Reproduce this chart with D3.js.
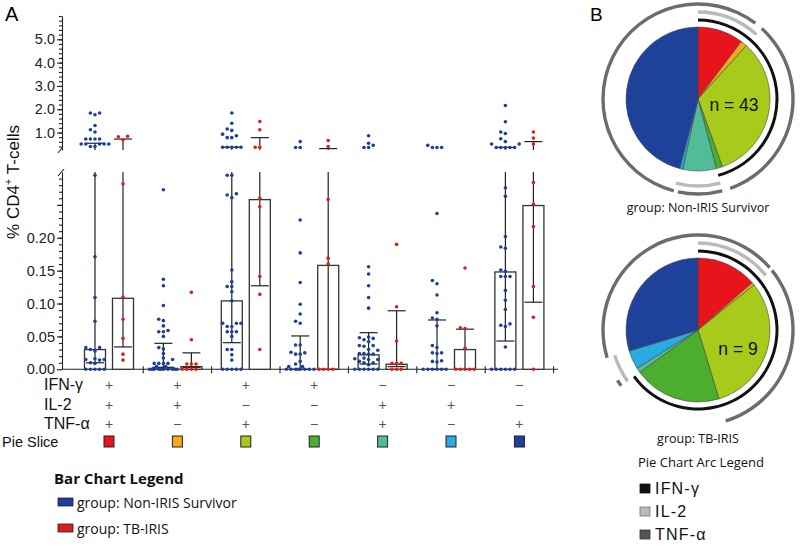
<!DOCTYPE html>
<html>
<head>
<meta charset="utf-8">
<script src="https://cdn.jsdelivr.net/npm/d3@7"></script>
<style>
  body { margin: 0; background: #fff; }
  svg { display: block; }
  .ax text { font-family: "Liberation Sans", Arial, sans-serif; font-size: 14.5px; fill: #222; }
  .ax path, .ax line { stroke: #222; stroke-width: 1.1; }
</style>
</head>
<body>
<script>
// DATA
const combos = ['+++', '++−', '+−+', '+−−', '−++', '−+−', '−−+']
const ifng = ['+', '+', '+', '+', '−', '−', '−']
const il2 = ['+', '+', '−', '−', '+', '+', '−']
const tnfa = ['+', '−', '+', '−', '+', '−', '+']

const upperTicks = [1, 2, 3, 4, 5]
const lowerTicks = [0, 0.05, 0.10, 0.15, 0.20, 0.25]

// bar heights, lower / upper whisker ends (% CD4+ T-cells)
const nonIrisBar = [0.030, 0.003, 0.104, 0.000, 0.022, 0.000, 0.148]
const nonIrisLo  = [0.010, 0.002, 0.0405, 0.000, 0.008, 0.000, 0.043]
const nonIrisHi  = [0.54, 0.0395, 0.37, 0.0507, 0.0557, 0.075, 0.36]
const tbIrisBar  = [0.108, 0.004, 0.258, 0.158, 0.0076, 0.030, 0.249]
const tbIrisLo   = [0.034, 0.003, 0.127, 0.000, 0.004, 0.000, 0.102]
const tbIrisHi   = [0.72, 0.025, 0.78, 0.31, 0.089, 0.061, 0.61]

const nonIrisDots = [
  [1.84, 1.76, 1.84, 1.30, 1.12, 1.02, 0.72, 0.72, 0.72, 0.72, 0.51, 0.51, 0.51, 0.51, 0.51, 0.40, 0.40,
   0.295, 0.171, 0.109, 0.073, 0.033, 0.033, 0.030, 0.028, 0.016, 0.015, 0.015, 0.014, 0.010, 0.009, 0, 0, 0, 0, 0],
  [0.273, 0.137, 0.127, 0.097, 0.076, 0.074, 0.066, 0.059, 0.057, 0.057, 0.050, 0.033, 0.031, 0.024, 0.017, 0.015,
   0.009, 0.009, 0.009, 0.009, 0.004, 0.004, 0, 0, 0, 0, 0, 0, 0, 0, 0, 0],
  [1.84, 1.40, 1.15, 1.09, 0.93, 0.86, 0.78, 0.78, 0.37, 0.37, 0.37, 0.37, 0.37,
   0.295, 0.295, 0.267, 0.265, 0.261, 0.151, 0.133, 0.126, 0.126, 0.118, 0.104, 0.070, 0.070, 0.070, 0.065, 0.065,
   0.057, 0.057, 0.057, 0.050, 0.030, 0.030, 0.022, 0.014, 0, 0, 0, 0, 0],
  [0.61, 0.36, 0.36,
   0.227, 0.177, 0.132, 0.099, 0.084, 0.073, 0.070, 0.037, 0.037, 0.025, 0.023, 0.023, 0.026, 0.012, 0.008,
   0.004, 0.004, 0, 0, 0, 0, 0, 0, 0, 0],
  [0.86, 0.54, 0.36, 0.36, 0.45,
   0.156, 0.145, 0.127, 0.109, 0.093, 0.049, 0.047, 0.045, 0.048, 0.036, 0.035, 0.036, 0.042, 0.030, 0.029,
   0.023, 0.024, 0.023, 0.024, 0.016, 0.015, 0.015, 0.017, 0.010, 0.012, 0.007, 0.010, 0, 0, 0, 0, 0, 0],
  [0.36, 0.36, 0.36, 0.45,
   0.237, 0.135, 0.130, 0.113, 0.086, 0.076, 0.078, 0.066, 0.036, 0.033, 0.025, 0.024, 0.025, 0.013, 0.012,
   0.011, 0, 0, 0, 0, 0, 0],
  [2.16, 1.46, 1.02, 0.96, 0.73, 0.61, 0.51, 0.51, 0.36, 0.36, 0.36, 0.36, 0.36,
   0.276, 0.263, 0.202, 0.186, 0.184, 0.151, 0.149, 0.141, 0.141, 0.141, 0.120, 0.105, 0.091, 0.069, 0.065,
   0.067, 0.034, 0, 0, 0, 0, 0, 0]
]
const tbIrisDots = [
  [0.84, 0.82, 0.69, 0.282, 0.110, 0.076, 0.047, 0.023, 0.014],
  [0.117, 0.045, 0.008, 0.008, 0.008, 0, 0, 0, 0],
  [1.47, 1.12, 0.37, 0.37, 0.26, 0.247, 0.141, 0.114, 0.030],
  [0.66, 0.40, 0.258, 0.169, 0.160, 0, 0, 0, 0],
  [0.19, 0.095, 0.043, 0.009, 0.009, 0.009, 0, 0, 0],
  [0.154, 0.063, 0.062, 0.032, 0, 0, 0, 0, 0],
  [1.02, 0.76, 0.51, 0.284, 0.251, 0.217, 0.126, 0.079, 0]
]

// pie slice shares (%), same order as combos
const nonIrisPie = [10.3, 1.4, 32.8, 1.4, 7.5, 0.7, 45.9]
const tbIrisPie  = [13.6, 0.6, 31.1, 19.7, 1.1, 4.2, 29.7]

// STYLE
const sliceColors = ['#e8141b', '#f7a81b', '#a8cb1b', '#4bae2d', '#50bd97', '#29abe2', '#1e429a']
const blue = '#1e3f98', red = '#dc1f1b'
const sans = '"Liberation Sans", Arial, sans-serif'
const soft = '"Open Sans", sans-serif'

const svg = d3.select('body').append('svg').attr('width', 800).attr('height', 546)

// ---------- PANEL A ----------
const axisX = 62
const yTop = d3.scaleLinear().domain([0.25, 6]).range([150, 16])
const yBot = d3.scaleLinear().domain([0, 0.3]).range([369.3, 172])
const yOf = v => v > 0.3 ? yTop(v) : yBot(v)

const x = d3.scaleBand().domain(combos).range([74.8, 553.6])
const sub = d3.scaleBand().domain(['non', 'iris']).range([0, x.bandwidth()]).paddingInner(0.25).paddingOuter(0.346)

// y axes (upper + lower segment)
const upAx = svg.append('g').attr('class', 'ax').attr('transform', `translate(${axisX},0)`)
upAx.call(d3.axisLeft(yTop).tickValues(upperTicks).tickFormat(d3.format('.1f')).tickSize(5).tickSizeOuter(0).tickPadding(2))
svg.append('g').attr('class', 'ax').attr('transform', `translate(${axisX},0)`)
  .call(d3.axisLeft(yTop).tickValues(d3.range(0.4, 6.001, 0.2)).tickSize(3).tickFormat(''))
  .call(g => g.select('.domain').remove())

const loAx = svg.append('g').attr('class', 'ax').attr('transform', `translate(${axisX},0)`)
loAx.call(d3.axisLeft(yBot).tickValues(lowerTicks).tickFormat(d => d <= 0.2 ? d3.format('.2f')(d) : '')
  .tickSize(5).tickSizeOuter(0).tickPadding(2))
svg.append('g').attr('class', 'ax').attr('transform', `translate(${axisX},0)`)
  .call(d3.axisLeft(yBot).tickValues(d3.range(0.01, 0.295, 0.01)).tickSize(3).tickFormat(''))
  .call(g => g.select('.domain').remove())

// axis break marks
svg.append('path').attr('d', `M${axisX},148 L${axisX - 4},153`).attr('stroke', '#222').attr('stroke-width', 1.1).attr('fill', 'none')
svg.append('path').attr('d', `M${axisX - 4},176 L${axisX + 2},169`).attr('stroke', '#222').attr('stroke-width', 1.1).attr('fill', 'none')

// x axis
svg.append('line').attr('x1', axisX).attr('x2', 558).attr('y1', yBot(0)).attr('y2', yBot(0))
  .attr('stroke', '#222').attr('stroke-width', 1.1)
svg.append('g').selectAll('line').data(combos).join('line')
  .attr('x1', d => x(d) + x.bandwidth()).attr('x2', d => x(d) + x.bandwidth())
  .attr('y1', yBot(0) - 3).attr('y2', yBot(0) + 4)
  .attr('stroke', '#222').attr('stroke-width', 1.1)

svg.append('text').attr('x', 5).attr('y', 21).text('A')
  .attr('font-family', sans).attr('font-size', 20)

const ylab = svg.append('text').attr('transform', 'translate(19,182) rotate(-90)')
  .attr('text-anchor', 'middle').attr('font-family', sans).attr('font-size', 17).attr('fill', '#111')
ylab.append('tspan').text('% CD4')
ylab.append('tspan').text('+').attr('font-size', 11).attr('dy', -7)
ylab.append('tspan').text(' T-cells').attr('dy', 7)

// simple beeswarm in pixel space
function swarm(values, cx) {
  const pts = values.map(v => ({ v, y: yOf(v) })).sort((a, b) => b.y - a.y)
  const placed = []
  const step = 4.6, minD = 4.0
  const cands = [0, -1, 1, -2, 2, -3, 3, -0.5, 0.5, -1.5, 1.5, -2.5, 2.5].map(k => k * step)
  pts.forEach(p => {
    let best = cands[0], bestD = -1
    for (const off of cands) {
      let d = Infinity
      placed.forEach(q => { d = Math.min(d, Math.hypot(q.x - (cx + off), q.y - p.y)) })
      if (d >= minD) { best = off; bestD = d; break }
      if (d > bestD) { bestD = d; best = off }
    }
    p.x = cx + best
    placed.push(p)
  })
  return placed
}

const series = [
  { key: 'non', bar: nonIrisBar, lo: nonIrisLo, hi: nonIrisHi, dots: nonIrisDots, color: blue },
  { key: 'iris', bar: tbIrisBar, lo: tbIrisLo, hi: tbIrisHi, dots: tbIrisDots, color: red }
]

const plot = svg.append('g')
series.forEach(s => {
  combos.forEach((c, i) => {
    const x0 = x(c) + sub(s.key)
    const cx = x0 + sub.bandwidth() / 2
    // bar
    plot.append('rect').attr('x', x0).attr('y', yBot(s.bar[i]))
      .attr('width', sub.bandwidth()).attr('height', Math.max(0, yBot(0) - yBot(s.bar[i])))
      .attr('fill', '#fff').attr('stroke', '#333').attr('stroke-width', 1.3)
    // whisker
    const lo = s.lo[i], hi = s.hi[i]
    const topLower = hi > 0.3 ? yBot.range()[1] : yBot(hi)
    plot.append('line').attr('x1', cx).attr('x2', cx).attr('y1', yBot(lo)).attr('y2', topLower)
      .attr('stroke', '#222').attr('stroke-width', 1.2)
    if (hi > 0.3) {
      plot.append('line').attr('x1', cx).attr('x2', cx).attr('y1', yTop.range()[0]).attr('y2', yTop(hi))
        .attr('stroke', '#222').attr('stroke-width', 1.2)
    }
    ;[lo, hi].forEach(v => {
      plot.append('line').attr('x1', cx - 9).attr('x2', cx + 9).attr('y1', yOf(v)).attr('y2', yOf(v))
        .attr('stroke', '#222').attr('stroke-width', 1.2)
    })
  })
})
series.forEach(s => {
  combos.forEach((c, i) => {
    const cx = x(c) + sub(s.key) + sub.bandwidth() / 2
    plot.append('g').selectAll('circle').data(swarm(s.dots[i], cx)).join('circle')
      .attr('cx', d => d.x).attr('cy', d => d.y).attr('r', 1.8).attr('fill', s.color)
  })
})

// combination table
const rows = [['IFN-γ', ifng, 390], ['IL-2', il2, 410], ['TNF-α', tnfa, 429]]
rows.forEach(([label, signs, yb]) => {
  svg.append('text').attr('x', 44).attr('y', yb).text(label)
    .attr('font-family', sans).attr('font-size', 16).attr('fill', '#111')
  svg.append('g').selectAll('text').data(combos).join('text')
    .attr('x', d => x(d) + x.bandwidth() / 2).attr('y', yb)
    .attr('text-anchor', 'middle').attr('font-family', sans).attr('font-size', 14).attr('fill', '#555')
    .text((d, i) => signs[i])
})
svg.append('text').attr('x', 2).attr('y', 447).text('Pie Slice')
  .attr('font-family', sans).attr('font-size', 14.5).attr('fill', '#111')
svg.append('g').selectAll('rect').data(combos).join('rect')
  .attr('x', d => x(d) + x.bandwidth() / 2 - 5).attr('y', 436).attr('width', 10).attr('height', 11)
  .attr('fill', (d, i) => sliceColors[i]).attr('stroke', '#222').attr('stroke-width', 1)

// bar chart legend
svg.append('text').attr('x', 54).attr('y', 484).text('Bar Chart Legend')
  .attr('font-family', soft).attr('font-weight', 'bold').attr('font-size', 15).attr('fill', '#111')
;[['group: Non-IRIS Survivor', blue, 498], ['group: TB-IRIS', red, 524]].forEach(([t, col, yy]) => {
  svg.append('rect').attr('x', 58).attr('y', yy).attr('width', 15).attr('height', 8)
    .attr('fill', col).attr('stroke', '#222').attr('stroke-width', 0.8)
  svg.append('text').attr('x', 77).attr('y', yy + 9.5).text(t)
    .attr('font-family', soft).attr('font-size', 14).attr('fill', '#111')
})

// ---------- PANEL B ----------
svg.append('text').attr('x', 590).attr('y', 21).text('B').attr('font-family', sans).attr('font-size', 19)

const pieR = 72
const pie = d3.pie().sort(null).value(d => d)
const rings = [
  { signs: ifng, r: 79, w: 3, color: '#111' },
  { signs: il2, r: 87, w: 3.4, color: '#bababa' },
  { signs: tnfa, r: 95, w: 3.4, color: '#6c6c6c' }
]

function drawPie(values, cx, cy, nLabel, nx, ny, caption, capY) {
  const g = svg.append('g').attr('transform', `translate(${cx},${cy})`)
  const arcs = pie(values)
  g.selectAll('path.slice').data(arcs).join('path').attr('class', 'slice')
    .attr('d', d3.arc().innerRadius(0).outerRadius(pieR))
    .attr('fill', (d, i) => sliceColors[i]).attr('stroke', '#444').attr('stroke-width', 0.6)
  rings.forEach(ring => {
    // merge neighbouring positive slices into runs
    const runs = []
    arcs.forEach((a, i) => {
      if (ring.signs[i] !== '+') return
      const last = runs[runs.length - 1]
      if (last && Math.abs(last.end - a.startAngle) < 1e-9) last.end = a.endAngle
      else runs.push({ start: a.startAngle, end: a.endAngle })
    })
    if (runs.length > 1 && runs[0].start === 0 && Math.abs(runs[runs.length - 1].end - 2 * Math.PI) < 1e-9) {
      runs[0].start = runs.pop().start - 2 * Math.PI
    }
    const ringArc = d3.arc().innerRadius(ring.r - ring.w / 2).outerRadius(ring.r + ring.w / 2)
    g.selectAll(null).data(runs).join('path')
      .attr('d', d => ringArc({ startAngle: d.start, endAngle: d.end }))
      .attr('fill', ring.color)
  })
  svg.append('text').attr('x', nx).attr('y', ny).attr('text-anchor', 'middle').text(nLabel)
    .attr('font-family', sans).attr('font-size', 17.5).attr('fill', '#111')
  svg.append('text').attr('x', cx).attr('y', capY).attr('text-anchor', 'middle').text(caption)
    .attr('font-family', soft).attr('font-size', 12.5).attr('fill', '#111')
}
drawPie(nonIrisPie, 698, 99, 'n = 43', 734, 111, 'group: Non-IRIS Survivor', 212)
drawPie(tbIrisPie, 698, 330, 'n = 9', 738, 355, 'group: TB-IRIS', 443)

// arc legend
svg.append('text').attr('x', 701).attr('y', 467).attr('text-anchor', 'middle').text('Pie Chart Arc Legend')
  .attr('font-family', soft).attr('font-size', 13).attr('fill', '#111')
const arcLegend = [['IFN-γ', '#111', '#111'], ['IL-2', '#bbb', '#777'], ['TNF-α', '#555', '#333']]
arcLegend.forEach(([t, fill, stroke], i) => {
  const yy = 484 + i * 23
  svg.append('rect').attr('x', 640).attr('y', yy).attr('width', 10).attr('height', 9)
    .attr('fill', fill).attr('stroke', stroke).attr('stroke-width', 0.8)
  svg.append('text').attr('x', 655).attr('y', yy + 10).text(t)
    .attr('font-family', sans).attr('font-size', 16).attr('letter-spacing', 1.2).attr('fill', '#111')
})
</script>
</body>
</html>
